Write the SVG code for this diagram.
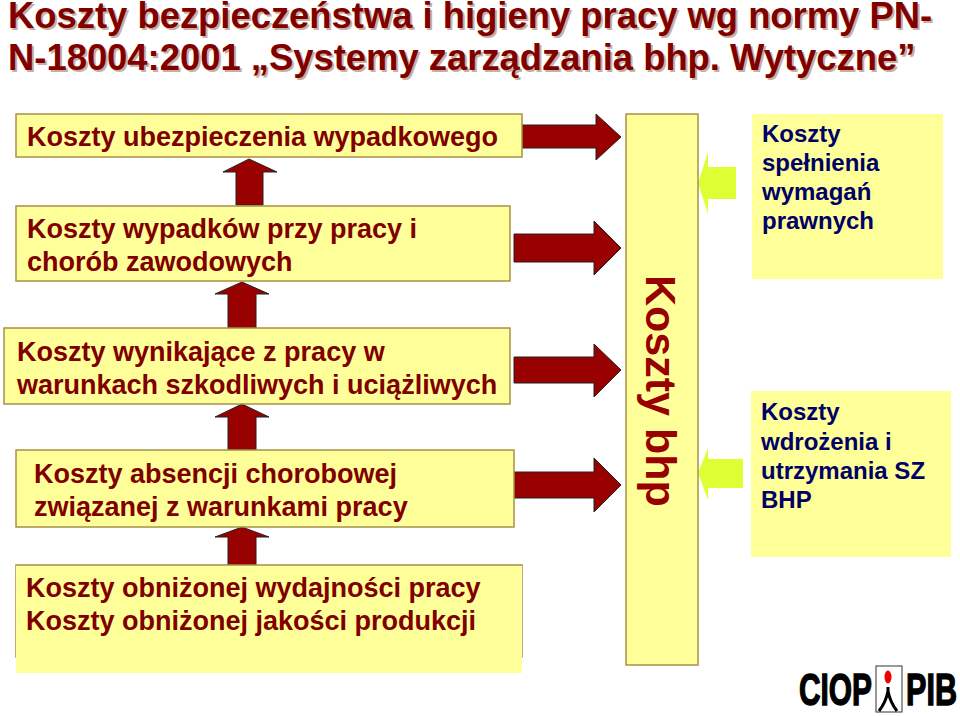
<svg xmlns="http://www.w3.org/2000/svg" width="960" height="716" viewBox="0 0 960 716">
<style>
text{font-family:"Liberation Sans",Arial,sans-serif;fill:#800000}
.t{font-size:36.4px;font-weight:bold}
.s{fill:#c8b0a0}
.l{font-size:27px;font-weight:bold}
.r{font-size:24px;font-weight:bold;fill:#000066}
.b{fill:#ffff99;stroke:#a8904a;stroke-width:1.5}
.g{fill:#ffff99}
.a{fill:#990000;stroke:#222;stroke-width:1}
.y{fill:#ddff33}
.k{fill:#000;stroke:#000;stroke-width:1.4;font-size:44px;font-weight:bold}
</style>
<rect width="960" height="716" fill="#fff"/>
<g id="title">
<text class="t s" x="10" y="30">Koszty bezpieczeństwa i higieny pracy wg normy PN-</text>
<text class="t s" x="10" y="72">N-18004:2001  „Systemy zarządzania bhp. Wytyczne”</text>
<text class="t" x="8" y="28">Koszty bezpieczeństwa i higieny pracy wg normy PN-</text>
<text class="t" x="8" y="70">N-18004:2001  „Systemy zarządzania bhp. Wytyczne”</text>
</g>
<g id="connectors">
<path class="a" d="M522 125H596V114L621 137L596 160V148H522Z"/>
<path class="a" d="M514 234H594V221L621 248L594 275V262H514Z"/>
<path class="a" d="M514 357H594V344L621 370L594 397V383H514Z"/>
<path class="a" d="M514 472H594V458L621 485L594 512V498H514Z"/>
<path class="a" d="M236 205V172H223L249 159L277 172H263V205Z"/>
<path class="a" d="M228 328V294H215L242 282L269 294H256V328Z"/>
<path class="a" d="M228 450V417H215L242 404L269 417H256V450Z"/>
<path class="a" d="M228 565V537H215L242 527L269 537H256V565Z"/>
<path class="y" d="M736 167H708V152L698 183L708 214V199H736Z"/>
<path class="y" d="M743 459H708V448L698 473L708 500V488H743Z"/>
</g>
<g id="n-ubezpieczenie"><rect class="b" x="16" y="114" width="506" height="43"/><text class="l" x="27" y="146">Koszty ubezpieczenia wypadkowego</text></g>
<g id="n-wypadki"><rect class="b" x="16" y="206" width="494" height="75"/><text class="l" x="27" y="238">Koszty wypadków przy pracy i</text><text class="l" x="27" y="271">chorób zawodowych</text></g>
<g id="n-warunki"><rect class="b" x="4" y="328" width="506" height="76"/><text class="l" x="17" y="361">Koszty wynikające z pracy w</text><text class="l" x="17" y="394">warunkach szkodliwych i uciążliwych</text></g>
<g id="n-absencja"><rect class="b" x="16" y="450" width="498" height="77"/><text class="l" x="34" y="483">Koszty absencji chorobowej</text><text class="l" x="34" y="516">związanej z warunkami pracy</text></g>
<g id="n-obnizone"><rect class="b" x="16" y="565" width="506" height="92"/><rect class="g" x="16" y="566" width="506" height="107"/><text class="l" x="26" y="597">Koszty obniżonej wydajności pracy</text><text class="l" x="26" y="630">Koszty obniżonej jakości produkcji</text></g>
<g id="n-bhp"><rect class="b" x="626" y="114" width="72" height="551"/><text transform="translate(646,275) rotate(90)" font-size="43" font-weight="bold" style="fill:#990000">Koszty bhp</text></g>
<g id="n-prawne"><rect class="g" x="752" y="114" width="191" height="165"/><text class="r" x="762" y="142">Koszty</text><text class="r" x="762" y="171">spełnienia</text><text class="r" x="762" y="200">wymagań</text><text class="r" x="762" y="229">prawnych</text></g>
<g id="n-wdrozenie"><rect class="g" x="751" y="391" width="200" height="166"/><text class="r" x="761" y="420">Koszty</text><text class="r" x="761" y="450">wdrożenia i</text><text class="r" x="761" y="479">utrzymania SZ</text><text class="r" x="761" y="508">BHP</text></g>
<g id="logo">
<text class="k" x="799" y="705" textLength="73" lengthAdjust="spacingAndGlyphs">CIOP</text>
<rect x="876" y="666" width="26" height="46" fill="#fff" stroke="#333" stroke-width="1"/>
<ellipse cx="888" cy="677" rx="3.5" ry="6.5" fill="#e00"/>
<path d="M888 687V691Q886 702 879 711M888 691Q890 702 897 711" fill="none" stroke="#000" stroke-width="3"/>
<text class="k" x="906" y="705" textLength="51" lengthAdjust="spacingAndGlyphs">PIB</text>
</g>
</svg>
